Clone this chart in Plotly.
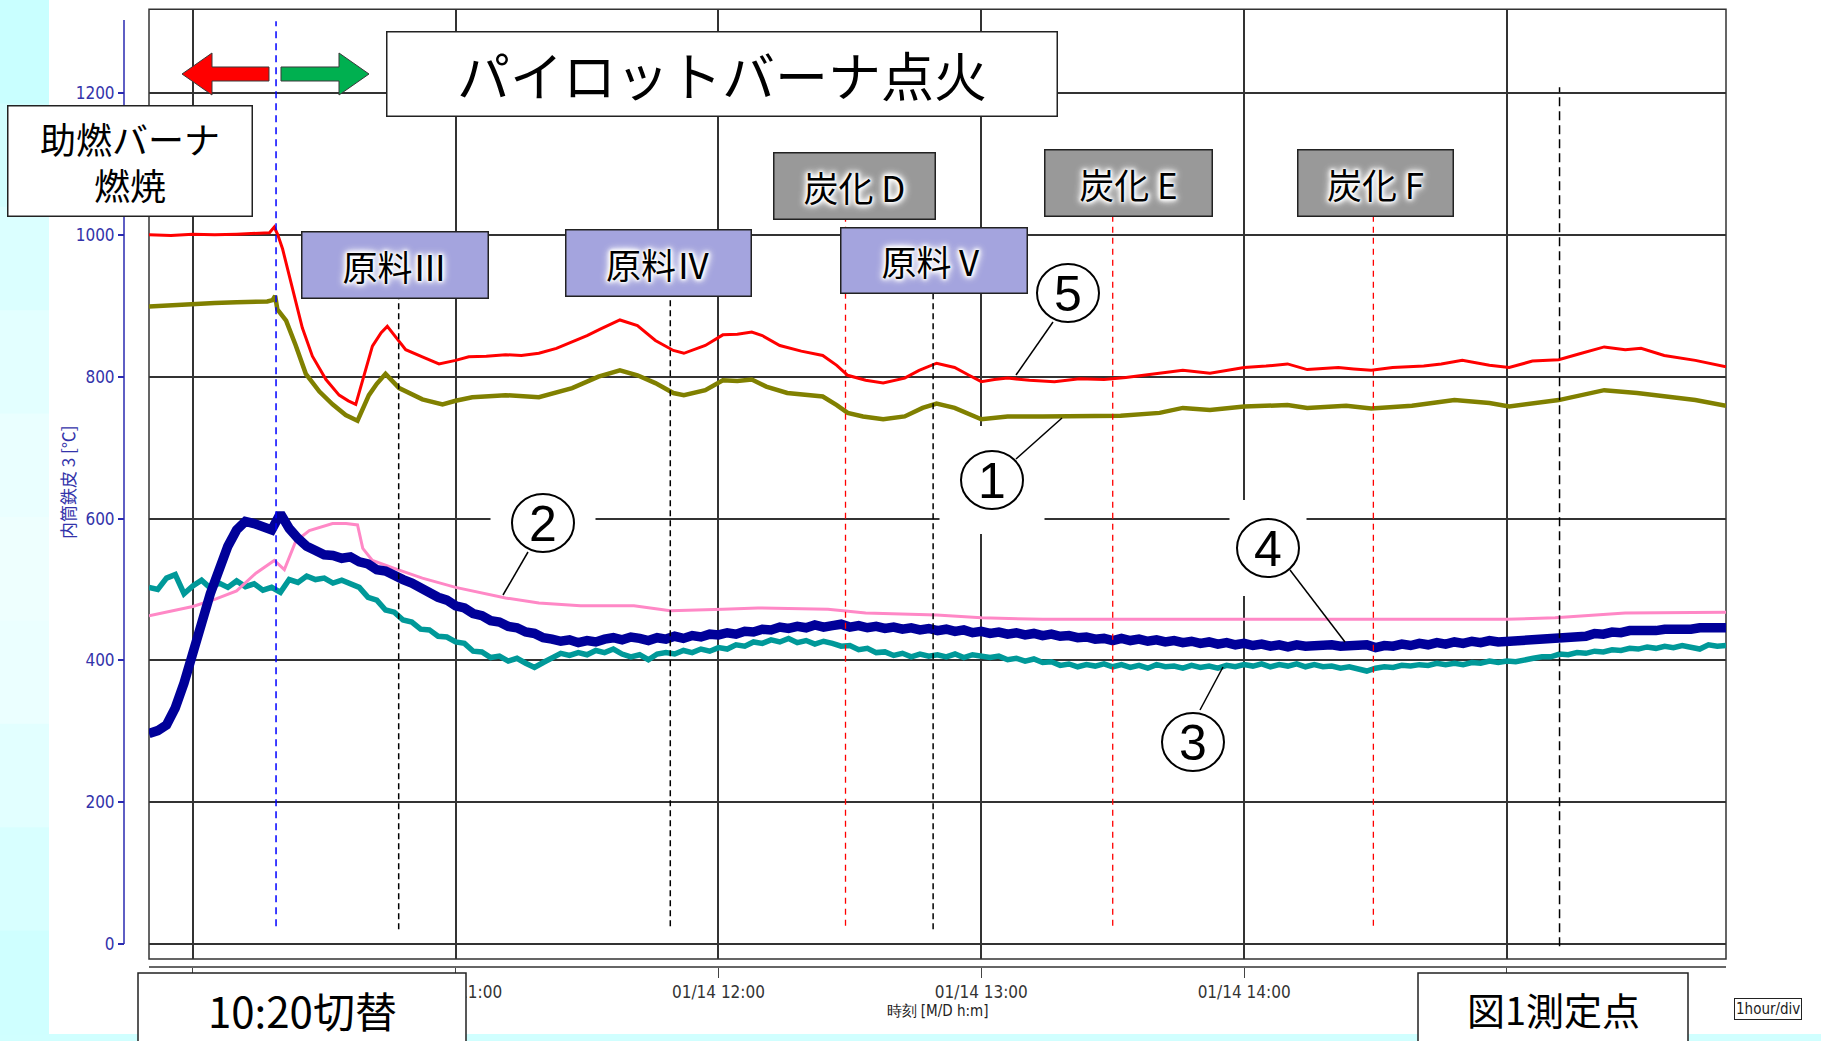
import pandas as pd
import plotly.graph_objects as go

W, H = 1821, 1041
DAY = "2014-01-14"
JP = "Noto Sans CJK JP"
NARROW = "Liberation Sans Narrow, Arial Narrow, DejaVu Sans Condensed, Liberation Sans, sans-serif"

# ---------------- data ----------------
# smooth channels: minutes after 10:00 and temperature [C]
red_min = [-10, -5, 0, 5, 10, 15, 17.5, 18.6, 19.4, 20.5, 22.8, 25, 27.3, 30.4, 33.4, 35.5, 37.2, 39, 41, 43,
           44.4, 46.7, 48.6, 52.4, 56.2, 60, 63, 67, 71.4, 75, 79, 83, 86.6, 90, 93, 97.5, 101.5, 105.6, 109.7, 112.1,
           117, 121, 124.3, 127.6, 130, 134, 138.9, 143.8, 147, 149.5, 153.6, 157.6, 162.5, 165.8, 169.8, 173.9, 177.2,
           180, 183, 186, 191, 196.7, 202.4, 208, 213, 220.7, 226, 232.2, 236, 240, 245, 249.9, 254.4, 258, 261.5, 265,
           269, 273.9, 281, 285, 289.8, 296, 300.5, 305.8, 311.8, 316.4, 322.2, 327, 330.6, 335.9, 343, 350]
red_val = [1000, 999, 1001, 1000, 1001, 1002, 1003, 1011, 1000, 980, 925, 869, 829, 796, 774, 766, 761, 800, 843, 862,
           871, 853, 838, 828, 818, 823, 828, 829, 831, 830, 833, 840, 849, 858, 867, 880, 872, 851, 837, 833,
           844, 859, 860, 863, 858, 844, 836, 830, 816, 802, 795, 791, 798, 809, 819, 813, 802,
           793, 796, 798, 795, 793, 797, 796, 799, 805, 809, 805, 809, 813, 815, 818, 810, 812, 813, 811,
           809, 813, 815, 818, 823, 816, 813, 822, 824, 832, 842, 838, 840, 830, 823, 814]

olive_min = [-10, -5, 0, 5, 10, 15, 17, 18.2, 18.8, 19.3, 21.3, 23.5, 25.8, 28.9, 31.9, 34.9, 37.6, 40.2, 42, 44,
             47.1, 52.4, 57, 60, 63.8, 71.4, 79, 86.6, 92.6, 97.5, 101.5, 105.6, 109.7, 112.1, 117, 121, 124.3, 127.6,
             130.9, 135.7, 143.8, 147, 149.5, 153, 157.6, 162.5, 166.6, 169.8, 173.9, 180, 186, 194, 202, 211.8, 220.7,
             226, 232.2, 240, 249.9, 254.4, 263.3, 269, 278.3, 288, 296, 300.5, 311.8, 322.2, 329.7, 335.9, 343, 350]
olive_val = [899, 901, 903, 904, 905, 905, 906, 908, 914, 895, 879, 844, 804, 779, 761, 746, 738, 774, 790, 804,
             784, 768, 761, 766, 771, 774, 771, 784, 800, 809, 802, 791, 777, 774, 781, 795, 794, 796,
             786, 777, 772, 760, 749, 744, 740, 744, 756, 762, 756, 740, 744, 744, 744, 745, 749,
             756, 753, 758, 760, 756, 759, 755, 759, 767, 763, 758, 767, 781, 777, 772, 767, 759]

pink_min = [-10, -5, 0, 5, 10, 14.4, 18.6, 20.9, 23.5, 26.6, 29, 31.9, 35, 37.6, 38.8, 41, 46.8, 52.4, 60, 71.4,
            79, 88.5, 100.7, 109, 121, 129, 145, 153.6, 169.8, 180, 194, 216, 240, 270, 300, 311, 320, 327, 350]
pink_val = [463, 469, 476, 486, 498, 523, 541, 528, 568, 583, 588, 593, 593, 591, 558, 541, 528, 516, 503, 488,
            481, 477, 477, 470, 472, 474, 472, 467, 464, 460, 458, 458, 457, 458, 458, 460, 464, 467, 468]

# noisy channels: one sample every 2 minutes from 09:50 to 15:50
teal_val = [503, 500, 516, 521, 494, 505, 513, 502, 509, 503,
            512, 504, 508, 499, 503, 496, 514, 510, 519, 514,
            516, 509, 513, 507, 503, 489, 485, 471, 468, 457,
            454, 444, 443, 434, 433, 426, 424, 413, 412, 404,
            406, 399, 403, 396, 390, 397, 403, 410, 407, 411,
            408, 414, 411, 416, 409, 405, 408, 401, 409, 411,
            409, 414, 411, 416, 413, 418, 416, 422, 420, 426,
            424, 429, 426, 431, 425, 428, 423, 427, 424, 420,
            421, 415, 417, 411, 412, 407, 410, 405, 409, 406,
            408, 405, 409, 404, 408, 406, 404, 406, 401, 403,
            399, 402, 397, 398, 393, 395, 391, 394, 392, 395,
            391, 394, 390, 393, 389, 394, 391, 392, 389, 393,
            390, 392, 389, 393, 391, 394, 392, 395, 391, 394,
            392, 395, 391, 394, 391, 392, 389, 391, 387, 385,
            389, 391, 390, 393, 392, 394, 393, 396, 394, 396,
            394, 397, 396, 399, 397, 399, 398, 401, 403, 405,
            405, 409, 408, 411, 410, 413, 412, 415, 414, 417,
            416, 419, 417, 420, 418, 421, 419, 416, 422, 420,
            421]
navy_val = [297, 301, 309, 333, 368, 405, 452, 494, 531, 561,
            584, 596, 593, 588, 584, 607, 586, 572, 561, 555,
            549, 548, 544, 546, 539, 536, 528, 526, 519, 514,
            509, 502, 498, 489, 485, 477, 474, 466, 463, 456,
            454, 448, 446, 440, 438, 432, 430, 427, 429, 425,
            428, 426, 430, 432, 429, 433, 431, 428, 432, 430,
            434, 431, 435, 433, 437, 436, 439, 437, 441, 440,
            444, 443, 447, 445, 448, 446, 450, 447, 449, 451,
            447, 449, 446, 448, 445, 447, 444, 446, 443, 445,
            442, 444, 441, 443, 439, 441, 438, 440, 437, 439,
            436, 438, 435, 437, 434, 435, 432, 433, 430, 431,
            428, 431, 428, 430, 427, 429, 426, 428, 425, 427,
            424, 426, 423, 425, 422, 424, 421, 423, 420, 422,
            419, 422, 420, 421, 419, 422, 420, 421, 419, 422,
            418, 421, 420, 423, 421, 424, 422, 425, 423, 426,
            424, 427, 425, 428, 426, 427, 425, 428, 427, 430,
            429, 432, 431, 435, 434, 438, 437, 440, 439, 442,
            441, 443, 442, 444, 443, 445, 444, 446, 445, 447,
            446]

# event markers (time of day)
switch_time = "10:19"
feed_times = ["10:47", "11:49", "12:49"]        # 原料 III / IV / V
carb_times = ["12:29", "13:30", "14:29:30"]      # 炭化 D / E / F
end_time = "15:12"

y_ticks = [0, 200, 400, 600, 800, 1000, 1200]
hour_ticks = ["10:00", "11:00", "12:00", "13:00", "14:00", "15:00"]
hour_text = ["", "01/14 11:00", "01/14 12:00", "01/14 13:00", "01/14 14:00", ""]

# ---------------- helpers ----------------
T10 = pd.Timestamp(f"{DAY} 10:00")
T0 = pd.Timestamp(f"{DAY} 09:50")


def from_min(mins):
    return [T10 + pd.Timedelta(minutes=m) for m in mins]


def every2(vals):
    return [T0 + pd.Timedelta(minutes=2 * i) for i in range(len(vals))]


def tod(hm):
    return pd.Timestamp(f"{DAY} {hm}")


def fx(px):
    return px / W


def fy(py):
    return 1 - py / H


# plot area in pixels
PL, PR, PT, PB = 149, 1726, 9.3, 959
Y_LO, Y_HI = -21, 1318

fig = go.Figure()
fig.add_trace(go.Scatter(x=every2(teal_val), y=teal_val, mode="lines", line=dict(color="#009999", width=5.5)))
fig.add_trace(go.Scatter(x=from_min(pink_min), y=pink_val, mode="lines", line=dict(color="#ff88c6", width=3)))
fig.add_trace(go.Scatter(x=every2(navy_val), y=navy_val, mode="lines", line=dict(color="#000099", width=9.5)))
fig.add_trace(go.Scatter(x=from_min(olive_min), y=olive_val, mode="lines", line=dict(color="#808000", width=4.5)))
fig.add_trace(go.Scatter(x=from_min(red_min), y=red_val, mode="lines", line=dict(color="#ff0000", width=3)))

shapes = []

# page background: white sheet over a pale cyan backdrop
left_bands = ["#c9ffff", "#d2ffff", "#dbffff", "#e3ffff", "#eaffff", "#eefffe", "#ebffff", "#e2ffff", "#d8ffff", "#cfffff"]
band_h = 1034 / len(left_bands)
for i, c in enumerate(left_bands):
    shapes.append(dict(type="rect", xref="paper", yref="paper", x0=0, x1=fx(49), y0=fy(i * band_h), y1=fy((i + 1) * band_h + 1),
                       fillcolor=c, line=dict(width=0), layer="below"))
shapes.append(dict(type="rect", xref="paper", yref="paper", x0=fx(49), x1=1, y0=fy(1034), y1=1,
                   fillcolor="#ffffff", line=dict(width=0), layer="below"))
# plot frame
shapes.append(dict(type="rect", xref="paper", yref="paper", x0=fx(PL), x1=fx(PR), y0=fy(PB), y1=fy(PT),
                   line=dict(color="#333", width=1.5), layer="below"))
# temperature axis line
shapes.append(dict(type="line", xref="paper", yref="y", x0=fx(124), x1=fx(124), y0=0, y1=1303,
                   line=dict(color="#2a2ab0", width=1.5)))


def vdash(t, y0, y1, color, dash="6px,4px", width=1.5):
    shapes.append(dict(type="line", xref="x", yref="y", x0=tod(t), x1=tod(t), y0=y0, y1=y1,
                       line=dict(color=color, width=width, dash=dash), layer="above"))


vdash(switch_time, 25, 1301, "#0000ff", "7px,5px")
vdash(feed_times[0], 21, 911, "#000")
vdash(feed_times[1], 25, 915, "#000")
vdash(feed_times[2], 21, 918, "#000")
for t in carb_times:
    vdash(t, 26, 1026, "#ff0000", "6px,5px", 1.3)
vdash(end_time, -3, 1208, "#000", "9px,5px")

# circled channel numbers: white patch, ring, leader line
circles = [
    ("②", 543, 523, 105, 100, (528, 552), (503, 595)),
    ("⑤", 1068, 293, 78, 96, (1053, 322), (1016, 375)),
    ("①", 992, 480, 105, 108, (1016, 459), (1062, 418)),
    ("④", 1268, 548, 77, 96, (1290, 570), (1345, 642)),
    ("③", 1193, 742, 78, 96, (1200, 710), (1223, 667)),
]
digit = {"①": "1", "②": "2", "③": "3", "④": "4", "⑤": "5"}
for lab, cx, cy, bw, bh, p0, p1 in circles:
    shapes.append(dict(type="rect", xref="paper", yref="paper", x0=fx(cx - bw / 2), x1=fx(cx + bw / 2),
                       y0=fy(cy + bh / 2), y1=fy(cy - bh / 2), fillcolor="#fff", line=dict(width=0), layer="above"))
    shapes.append(dict(type="circle", xref="paper", yref="paper", x0=fx(cx - 31), x1=fx(cx + 31),
                       y0=fy(cy + 29), y1=fy(cy - 29), fillcolor="#fff", line=dict(color="#000", width=2), layer="above"))
    shapes.append(dict(type="line", xref="paper", yref="paper", x0=fx(p0[0]), y0=fy(p0[1]), x1=fx(p1[0]), y1=fy(p1[1]),
                       line=dict(color="#000", width=1.5), layer="above"))


def arrow_path(tail, tip, cy, shaft=7, head=21, head_len=30):
    d = 1 if tip > tail else -1
    neck = tip - d * head_len
    pts = [(tail, cy - shaft), (neck, cy - shaft), (neck, cy - head), (tip, cy), (neck, cy + head),
           (neck, cy + shaft), (tail, cy + shaft)]
    return "M " + " L ".join(f"{fx(x):.5f},{fy(y):.5f}" for x, y in pts) + " Z"


shapes.append(dict(type="path", xref="paper", yref="paper", path=arrow_path(269, 182, 74),
                   fillcolor="#ff0000", line=dict(color="#3a3a3a", width=1), layer="above"))
shapes.append(dict(type="path", xref="paper", yref="paper", path=arrow_path(281, 369, 74),
                   fillcolor="#00b050", line=dict(color="#3a3a3a", width=1), layer="above"))

GLOW = ("0 0 1px #fff, 0 0 2px #fff, 0 0 3px #fff, 0 0 4px #fff, 0 0 5px #fff, "
        "0 0 6px #fff, 0 0 8px #fff, 0 0 10px #fff")


def box(text, x0, y0, x1, y1, fill, size, glow=False, family=JP, bw=1.5):
    f = dict(family=family, size=size, color="#000")
    if glow:
        f["shadow"] = GLOW
    return dict(text=text, xref="paper", yref="paper", x=fx((x0 + x1) / 2), y=fy((y0 + y1) / 2),
                xanchor="center", yanchor="middle", showarrow=False, width=x1 - x0, height=y1 - y0,
                bgcolor=fill, bordercolor="#222", borderwidth=bw, borderpad=0, font=f)


def open_box(text, x0, y0, x1, ty, size):
    # box running past the lower page edge: frame as a shape, caption as plain text
    shapes.append(dict(type="rect", xref="paper", yref="paper", x0=fx(x0), x1=fx(x1), y0=fy(1080), y1=fy(y0),
                       fillcolor="#fff", line=dict(color="#222", width=1.5), layer="above"))
    return dict(text=text, xref="paper", yref="paper", x=fx((x0 + x1) / 2), y=fy(ty), xanchor="center",
                yanchor="middle", showarrow=False, font=dict(family=JP, size=size, color="#000"))


LAV = "#a4a4de"
GRAY = "#999999"
annotations = [
    box("パイロットバーナ点火", 387, 33, 1056, 116, "#fff", 53),
    box("助燃バーナ<br>燃焼", 8, 107, 251, 216, "#fff", 36),
    box("原料Ⅲ", 302, 233, 487, 298, LAV, 35, glow=True),
    box("原料Ⅳ", 566, 230, 750, 295, LAV, 35, glow=True),
    box("原料Ⅴ", 841, 229, 1026, 293, LAV, 35, glow=True),
    box("炭化 D", 774, 153, 934, 218, GRAY, 35, glow=True),
    box("炭化 E", 1045, 151, 1211, 216, GRAY, 35, glow=True),
    box("炭化 F", 1298, 151, 1452, 216, GRAY, 35, glow=True),
    open_box("10:20切替", 138, 973, 466, 1009, 42),
    open_box("図1測定点", 1418, 973, 1688, 1008, 38),
    dict(text="1hour/div", xref="paper", yref="paper", x=fx(1734), y=fy(1009), xanchor="left", yanchor="middle",
         showarrow=False, bgcolor="#fff", bordercolor="#222", borderwidth=1, borderpad=1,
         font=dict(family=NARROW, size=15, color="#222")),
    dict(text="内筒鉄皮 3 [℃]", xref="paper", yref="paper", x=fx(67), y=fy(482), xanchor="center",
         yanchor="middle", textangle=-90, showarrow=False, font=dict(family=JP, size=17, color="#3333aa")),
]
for lab, cx, cy, *_ in circles:
    annotations.append(dict(text=digit[lab], xref="paper", yref="paper", x=fx(cx), y=fy(cy + 1),
                            xanchor="center", yanchor="middle", showarrow=False,
                            font=dict(family="Liberation Sans, Arial, sans-serif", size=50, color="#000")))

fig.update_layout(
    width=W, height=H,
    margin=dict(l=0, r=0, t=0, b=0),
    paper_bgcolor="#d0ffff",
    plot_bgcolor="rgba(0,0,0,0)",
    showlegend=False,
    shapes=shapes,
    annotations=annotations,
    xaxis=dict(
        type="date", domain=[fx(PL), fx(PR)], range=[tod("09:50"), tod("15:50")],
        anchor="free", position=fy(967),
        tickvals=[tod(h) for h in hour_ticks], ticktext=hour_text,
        ticks="outside", ticklen=10, tickcolor="#444", tickwidth=1.2,
        showline=True, linecolor="#666", linewidth=2,
        showgrid=True, gridcolor="#333", gridwidth=1.5, zeroline=False,
        tickfont=dict(family=NARROW, size=17, color="#333"),
        title=dict(text="時刻 [M/D h:m]", font=dict(family=NARROW, size=15, color="#222"), standoff=2),
    ),
    yaxis=dict(
        domain=[fy(PB), fy(PT)], range=[Y_LO, Y_HI],
        anchor="free", position=fx(124), side="left",
        tickvals=y_ticks, ticks="outside", ticklen=6, tickcolor="#2a2ab0", tickwidth=1.5,
        showline=False, showgrid=True, gridcolor="#333", gridwidth=1.5, zeroline=False,
        tickfont=dict(family=NARROW, size=17, color="#3333aa"),
    ),
)

fig.write_html("out.html", config={"displayModeBar": False})
